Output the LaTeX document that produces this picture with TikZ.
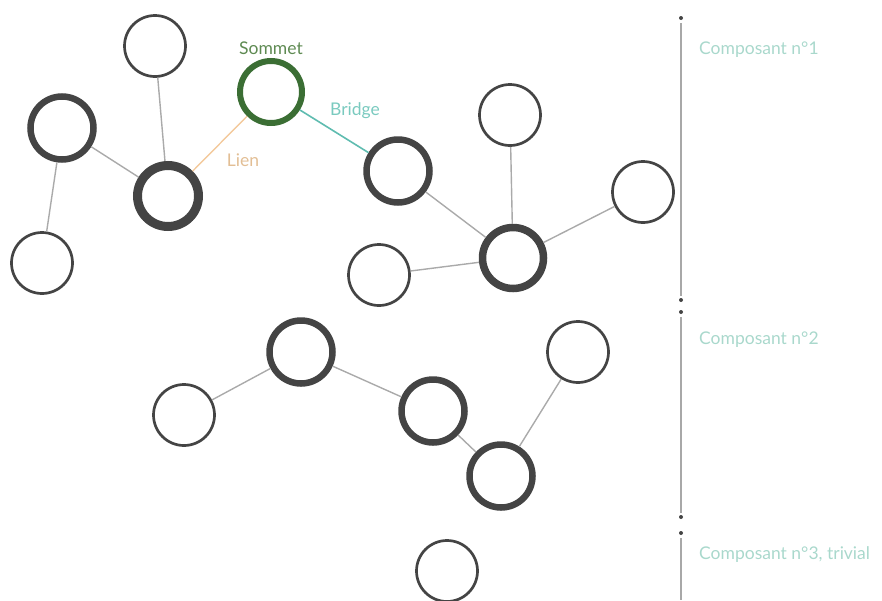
\documentclass[tikz,border=0pt]{standalone}
\usepackage{fontspec}
\setmainfont{Lato}
\definecolor{ringcol}{HTML}{444444}
\definecolor{edgecol}{HTML}{AAAAAA}
\definecolor{somgreen}{HTML}{3B6E34}
\definecolor{somtext}{HTML}{5E8A52}
\definecolor{lienorange}{HTML}{F3C99C}
\definecolor{lientext}{HTML}{E2BE94}
\definecolor{bridgeteal}{HTML}{5FBCB0}
\definecolor{bridgetext}{HTML}{7ACABF}
\definecolor{comptext}{HTML}{A9D8CC}
\definecolor{axisgray}{HTML}{A8A8A8}
\begin{document}
\begin{tikzpicture}[x=1pt,y=-1pt,
  ring/.style={circle,draw=ringcol,fill=white,inner sep=0pt},
  thinring/.style={ring,line width=2.7pt,minimum size=61pt},
  midring/.style={ring,line width=6.5pt,minimum size=63pt},
  boldring/.style={ring,line width=9pt,minimum size=61pt},
  edge/.style={draw=edgecol,line width=1.4pt},
  lbl/.style={font=\fontsize{17.5}{20}\selectfont,inner sep=0pt},
  axisdot/.style={circle,fill=ringcol,inner sep=0pt,minimum size=4pt},
  axis/.style={draw=axisgray,line width=1.3pt}]
\useasboundingbox (0,0) rectangle (882,600);
% nodes component 1
\node[thinring] (A) at (155,46) {};
\node[midring] (B) at (62,128) {};
\node[boldring] (C) at (168,196) {};
\node[thinring] (D) at (42,263) {};
\node[ring,draw=somgreen,line width=6pt,minimum size=62pt] (S) at (271,92) {};
\node[midring] (E) at (398,171) {};
\node[thinring] (F) at (510,115) {};
\node[thinring] (G) at (643,192) {};
\node[ring,line width=7.5pt,minimum size=61pt] (H) at (513,258) {};
\node[thinring] (I) at (379,275) {};
% component 2
\node[thinring] (J) at (184,415) {};
\node[midring] (K) at (301,352) {};
\node[midring] (L) at (433,411) {};
\node[midring] (M) at (501,476) {};
\node[thinring] (N) at (578,352) {};
% component 3
\node[thinring] (O) at (447,571) {};
% edges
\draw[edge] (A) -- (C);
\draw[edge] (B) -- (C);
\draw[edge] (B) -- (D);
\draw[draw=lienorange,line width=1.4pt] (C) -- (S);
\draw[draw=bridgeteal,line width=1.6pt] (S) -- (E);
\draw[edge] (E) -- (H);
\draw[edge] (F) -- (H);
\draw[edge] (G) -- (H);
\draw[edge] (I) -- (H);
\draw[edge] (J) -- (K);
\draw[edge] (K) -- (L);
\draw[edge] (L) -- (M);
\draw[edge] (M) -- (N);
% labels
\node[lbl,text=somtext] (tS) at (271,48) {Sommet};
\node[lbl,text=bridgetext] (tB) at (355,111) {Bridge};
\node[lbl,text=lientext] (tL) at (243,160) {Lien};
% axis
\node[axisdot] (d0) at (681,18) {};
\node[axisdot] (d1) at (681,300) {};
\node[axisdot] (d2) at (681,312) {};
\node[axisdot] (d3) at (681,517) {};
\node[axisdot] (d4) at (681,533) {};
\coordinate (d5) at (681,600);
\draw[axis] (681,23) -- (681,296);
\draw[axis] (681,317) -- (681,513);
\draw[axis] (681,538) -- (d5);
\node[lbl,text=comptext,anchor=west] (c1) at (699,50) {Composant n°1};
\node[lbl,text=comptext,anchor=west] (c2) at (699,340) {Composant n°2};
\node[lbl,text=comptext,anchor=west] (c3) at (699,555) {Composant n°3, trivial};
\end{tikzpicture}
\end{document}
